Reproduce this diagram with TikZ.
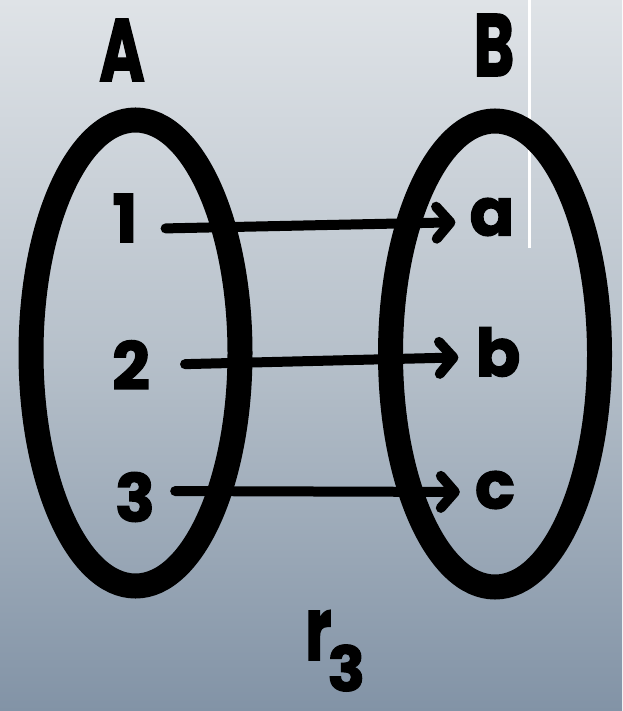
\documentclass[tikz,border=0pt]{standalone}
\usepackage{graphicx}
\usepackage{fontspec}
\newfontfamily\hand{Poppins Bold}[FakeBold=2]
\usepackage{tikz}
\usetikzlibrary{arrows.meta,shapes.geometric}
\definecolor{bgtop}{HTML}{DFE3E7}
\definecolor{bgmid}{HTML}{B6C0CA}
\definecolor{bgbot}{HTML}{8293A6}

\begin{document}
\begin{tikzpicture}[x=1pt, y=1pt,
      setring/.style={ellipse, draw, line width=25pt, inner sep=0pt,
        minimum width=209pt, minimum height=466pt},
      elem/.style={font=\hand\fontsize{66}{66}\selectfont, inner sep=0pt},
      setname/.style={font=\hand\fontsize{88}{88}\selectfont, inner sep=0pt},
      maparrow/.style={line width=10pt, line cap=round,
        -{Straight Barb[round, length=14pt, width=32pt]}}]
    \shade[top color=bgtop, bottom color=bgbot, middle color=bgmid]
      (0,0) rectangle (622,-711);
    \useasboundingbox (0,0) rectangle (622,-711);
    \draw[white, line width=3pt] (529,0) -- (529,-248);
    \node[setring] (setA) at (135.5,-353) {};
    \node[setring] (setB) at (495,-354) {};
    \node[setname] (lA) at (122,-50) {\scalebox{0.7}[1]{A}};
    \node[setname] (lB) at (494,-45) {\scalebox{0.7}[1]{B}};
    \node[elem] (n1) at (125,-218) {1};
    \node[elem] (n2) at (131,-365) {2};
    \node[elem] (n3) at (135,-497) {3};
    \node[elem] (na) at (492,-217) {a};
    \node[elem] (nb) at (498,-352) {b};
    \node[elem] (nc) at (495,-490) {c};
    \node[setname, anchor=base west] (rel) at (305,-660)
      {\scalebox{0.7}[1]{r}\kern-4pt\raisebox{-31pt}{\fontsize{62}{62}\selectfont 3}};
    \draw[maparrow, shorten <=28pt, shorten >=14pt]
      ([yshift=-11pt]n1.east) -- ([yshift=-5pt]na.west);
    \draw[maparrow, shorten <=35pt, shorten >=17pt]
      (n2.east) -- ([yshift=-5pt]nb.west);
    \draw[maparrow, shorten <=20pt, shorten >=15pt]
      ([yshift=6pt]n3.east) -- ([yshift=-2pt]nc.west);
  \end{tikzpicture}
\end{document}
